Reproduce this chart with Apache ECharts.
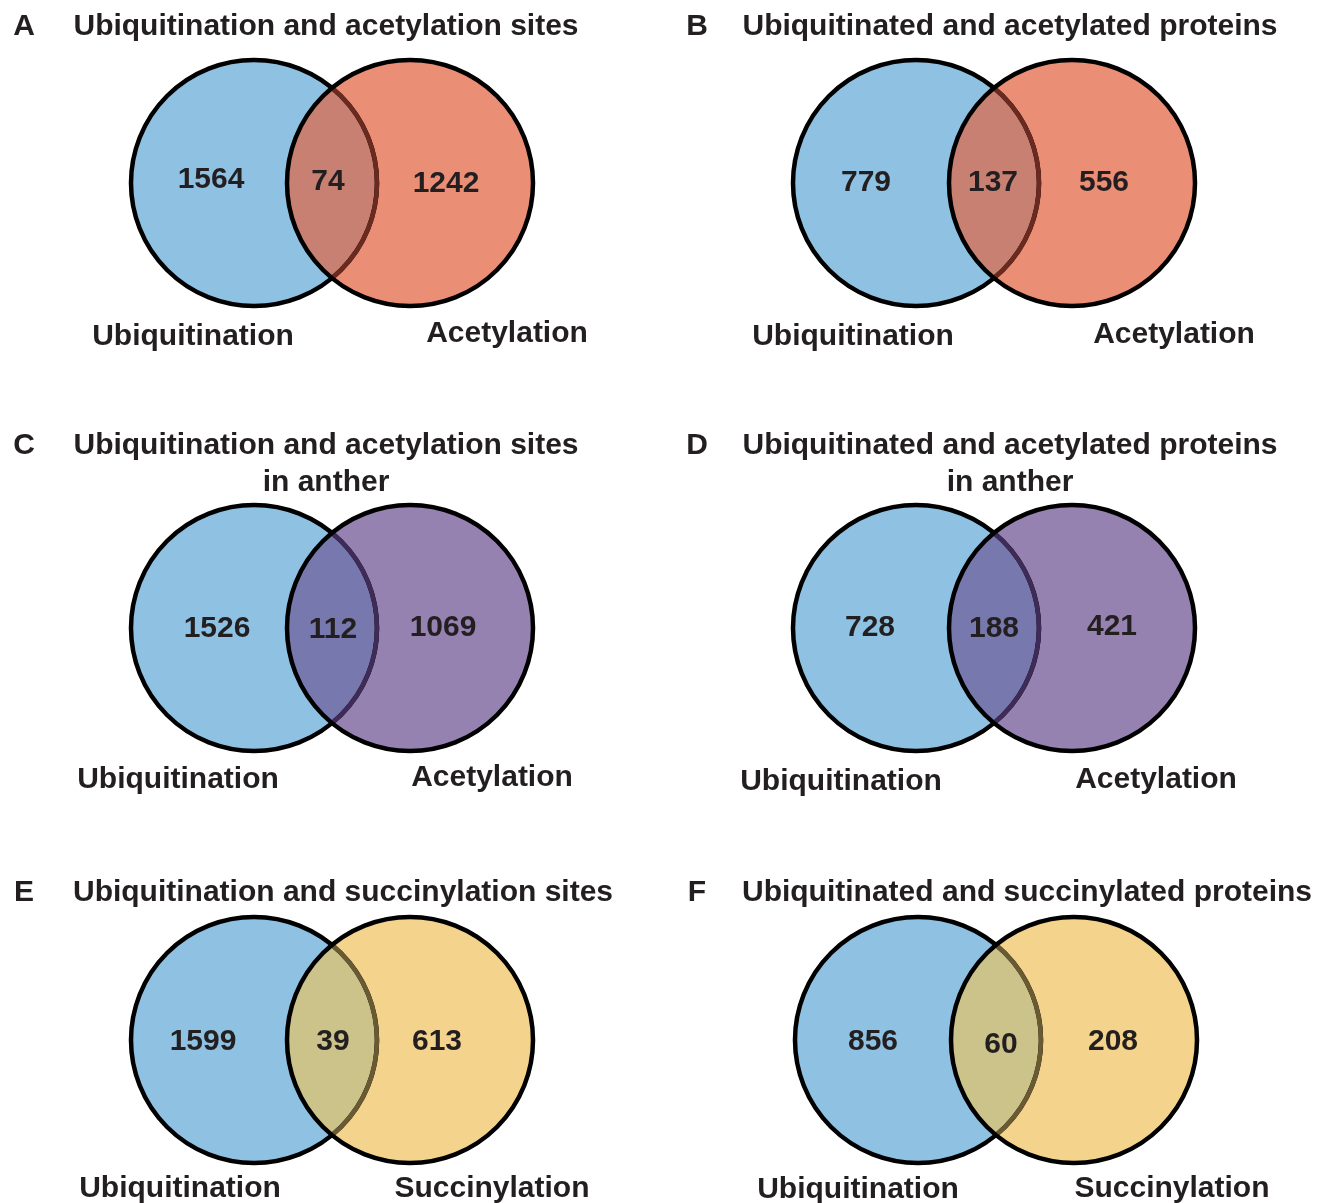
<!DOCTYPE html>
<html>
<head>
<meta charset="utf-8">
<script src="https://cdn.jsdelivr.net/npm/echarts@6/dist/echarts.min.js"></script>
<style>
  html, body { margin: 0; padding: 0; background: #fff; }
  #main { width: 1328px; height: 1203px; }
</style>
</head>
<body>
<div id="main"></div>
<script>
// 数据
const panelLetters = ["A", "B", "C", "D", "E", "F"];
const panelTitles = [
  "Ubiquitination and acetylation sites",
  "Ubiquitinated and acetylated proteins",
  "Ubiquitination and acetylation sites\nin anther",
  "Ubiquitinated and acetylated proteins\nin anther",
  "Ubiquitination and succinylation sites",
  "Ubiquitinated and succinylated proteins",
];
const leftSets = ["Ubiquitination", "Ubiquitination", "Ubiquitination", "Ubiquitination", "Ubiquitination", "Ubiquitination"];
const rightSets = ["Acetylation", "Acetylation", "Acetylation", "Acetylation", "Succinylation", "Succinylation"];
const leftOnly = [1564, 779, 1526, 728, 1599, 856];
const shared = [74, 137, 112, 188, 39, 60];
const rightOnly = [1242, 556, 1069, 421, 613, 208];

// 布局 (像素)
const panelCenter = [[332, 183], [994, 183], [332, 628], [994, 628], [332, 1040], [996, 1040]];
const titleCenterX = [326, 1010, 326, 1010, 343, 1027];
const titleTopY = [25, 25, 444, 444, 891, 891];
const letterX = [24, 697, 24, 697, 24, 697];
// 数字标签偏移 [left, both, right]
const countOffsets = [
  [[-121, -5], [-4, -3], [114, -1]],
  [[-128, -2], [-1, -2], [110, -2]],
  [[-115, -1], [1, 0], [111, -2]],
  [[-124, -2], [0, -1], [118, -3]],
  [[-129, 0], [1, 0], [105, 0]],
  [[-123, 0], [5, 3], [117, 0]],
];
// 集合名称偏移 [left, right]
const setLabelOffsets = [
  [[-139, 152], [175, 149]],
  [[-141, 152], [180, 150]],
  [[-154, 150], [160, 148]],
  [[-153, 152], [162, 150]],
  [[-152, 147], [160, 147]],
  [[-138, 148], [176, 147]],
];
const R = 123;
const HALF_D = 78;
const GRID_HW = 240;
const GRID_HH = 135;
const TEXT_DY = 2;

const blue = "#8EC1E2";
const rightColors = ["#EB8E76", "#EB8E76", "#9682B0", "#9682B0", "#F4D38D", "#F4D38D"];
const lensColors = ["#C88073", "#C88073", "#7778AD", "#7778AD", "#CBC38A", "#CBC38A"];
const tintColors = ["#6B2A1F", "#6B2A1F", "#3E2B57", "#3E2B57", "#6A5A33", "#6A5A33"];
const textColor = "#231F20";
const FONT = 'bold 30px "Liberation Sans", Arial, sans-serif';

var myChart = echarts.init(document.getElementById("main"));

var grids = [], xAxes = [], yAxes = [], series = [], graphics = [];

function textEl(x, y, text) {
  return {
    type: "text",
    z2: 10,
    x: x,
    y: y + TEXT_DY,
    style: {
      text: text,
      font: FONT,
      fill: textColor,
      align: "center",
      verticalAlign: "middle",
      textAlign: "center",
      textVerticalAlign: "middle",
    },
  };
}

panelCenter.forEach(function (c, i) {
  grids.push({
    left: c[0] - GRID_HW,
    top: c[1] - GRID_HH,
    width: GRID_HW * 2,
    height: GRID_HH * 2,
  });
  xAxes.push({ type: "value", gridIndex: i, min: -GRID_HW, max: GRID_HW, show: false });
  yAxes.push({ type: "value", gridIndex: i, min: -GRID_HH, max: GRID_HH, inverse: true, show: false });

  series.push({
    type: "custom",
    xAxisIndex: i,
    yAxisIndex: i,
    clip: false,
    silent: true,
    data: [
      [0, leftOnly[i]],
      [1, shared[i]],
      [2, rightOnly[i]],
    ],
    renderItem: function (params, api) {
      var p = params.seriesIndex;
      var region = api.value(0);
      var count = api.value(1);
      var cL = api.coord([-HALF_D, 0]);
      var cR = api.coord([HALF_D, 0]);
      var mid = api.coord([0, 0]);
      var r = api.size([R, 0])[0];
      var half = mid[0] - cL[0];
      var h = Math.sqrt(r * r - half * half);
      var lp = api.coord(countOffsets[p][region]);
      var children = [textEl(lp[0], lp[1], String(count))];
      function setName(k, name) {
        var sp = api.coord(setLabelOffsets[p][k]);
        return textEl(sp[0], sp[1], name);
      }
      if (region === 0) {
        children.push(
          { type: "circle", z2: 1, shape: { cx: cL[0], cy: cL[1], r: r }, style: { fill: blue, stroke: null } },
          { type: "circle", z2: 4, shape: { cx: cL[0], cy: cL[1], r: r }, style: { fill: "none", stroke: "#000", lineWidth: 4.5 } },
          setName(0, leftSets[p])
        );
      } else if (region === 2) {
        children.push(
          { type: "circle", z2: 2, shape: { cx: cR[0], cy: cR[1], r: r }, style: { fill: rightColors[p], stroke: null } },
          { type: "circle", z2: 6, shape: { cx: cR[0], cy: cR[1], r: r }, style: { fill: "none", stroke: "#000", lineWidth: 4.5 } },
          setName(1, rightSets[p])
        );
      } else {
        // 交集区域
        var top = mid[1] - h, bottom = mid[1] + h;
        var d =
          "M " + mid[0] + " " + top +
          " A " + r + " " + r + " 0 0 1 " + mid[0] + " " + bottom +
          " A " + r + " " + r + " 0 0 1 " + mid[0] + " " + top + " Z";
        var theta = Math.atan2(h, half);
        children.push(
          { type: "path", z2: 3, shape: { pathData: d }, style: { fill: lensColors[p], stroke: null } },
          {
            type: "arc",
            z2: 5,
            shape: { cx: cL[0], cy: cL[1], r: r, startAngle: -theta, endAngle: theta, clockwise: true },
            style: { fill: "none", stroke: tintColors[p], lineWidth: 4.5 },
          }
        );
      }
      return { type: "group", children: children };
    },
  });

  // 标题
  graphics.push({
    type: "text",
    x: titleCenterX[i],
    y: titleTopY[i] - 18.5 + TEXT_DY,
    style: {
      text: panelTitles[i],
      font: FONT,
      fill: textColor,
      lineHeight: 37,
      align: "center",
      verticalAlign: "top",
      textAlign: "center",
      textVerticalAlign: "top",
    },
  });
  graphics.push(textEl(letterX[i], titleTopY[i], panelLetters[i]));
});

var option = {
  backgroundColor: "#fff",
  animation: false,
  grid: grids,
  xAxis: xAxes,
  yAxis: yAxes,
  graphic: graphics,
  series: series,
};

myChart.setOption(option);
window.addEventListener("resize", function () {
  myChart.resize();
});
</script>
</body>
</html>
